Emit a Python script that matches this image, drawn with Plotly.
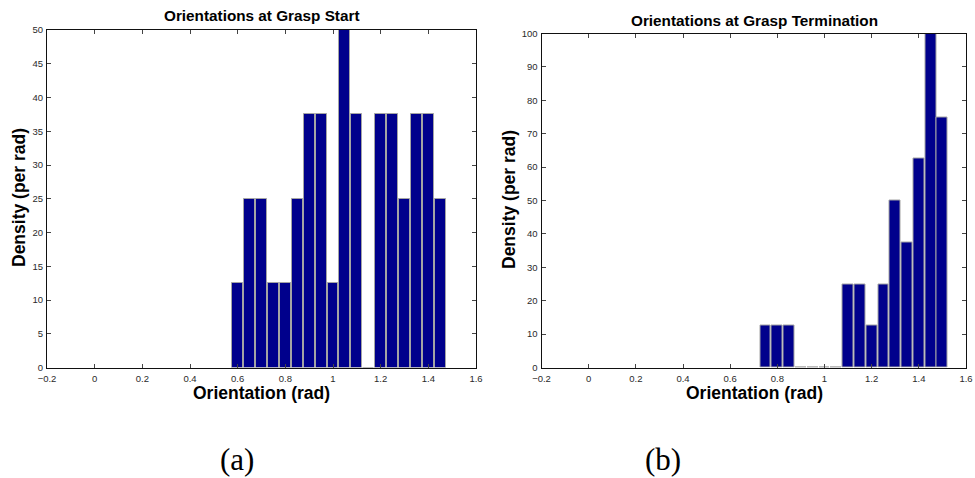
import plotly.graph_objects as go

# Histogram bins (bin centres in rad) and densities (per rad)
start_centers = [0.60, 0.65, 0.70, 0.75, 0.80, 0.85, 0.90, 0.95, 1.00, 1.05,
                 1.10, 1.15, 1.20, 1.25, 1.30, 1.35, 1.40, 1.45]
start_density = [12.5, 25, 25, 12.5, 12.5, 25, 37.5, 37.5, 12.5, 50,
                 37.5, 0, 37.5, 37.5, 25, 37.5, 37.5, 25]

term_centers = [0.75, 0.80, 0.85, 0.90, 0.95, 1.00, 1.05, 1.10, 1.15, 1.20,
                1.25, 1.30, 1.35, 1.40, 1.45, 1.50]
term_density = [12.5, 12.5, 12.5, 0, 0, 0, 0, 25, 25, 12.5,
                25, 50, 37.5, 62.5, 100, 75]

x_ticks = [-0.2, 0, 0.2, 0.4, 0.6, 0.8, 1.0, 1.2, 1.4, 1.6]
x_tick_text = ["\u22120.2", "0", "0.2", "0.4", "0.6", "0.8", "1", "1.2", "1.4", "1.6"]
start_yticks = [0, 5, 10, 15, 20, 25, 30, 35, 40, 45, 50]
term_yticks = [0, 10, 20, 30, 40, 50, 60, 70, 80, 90, 100]

W, H = 975, 478
BAR_BLUE = "#00008C"
EDGE_GREY = "#a4a4a4"
SANS = "Liberation Sans, Arial, sans-serif"
SERIF = "Liberation Serif, Times New Roman, serif"

fig = go.Figure()
fig.add_trace(go.Bar(x=start_centers, y=start_density, width=0.046,
                     marker=dict(color=BAR_BLUE, line=dict(color=EDGE_GREY, width=1)),
                     xaxis="x", yaxis="y", showlegend=False))
fig.add_trace(go.Bar(x=term_centers, y=term_density, width=0.046,
                     marker=dict(color=BAR_BLUE, line=dict(color=EDGE_GREY, width=1)),
                     xaxis="x2", yaxis="y2", showlegend=False))


def px_x(p):
    return p / W


def px_y(p):
    return 1 - p / H


axis_common = dict(showline=True, linecolor="#111", linewidth=1, mirror="ticks",
                   ticks="inside", ticklen=4, tickcolor="#444", tickwidth=1,
                   showgrid=False, zeroline=False, layer="above traces",
                   automargin=False,
                   tickfont=dict(family=SANS, size=9.5, color="#2a2a2a"))

fig.update_layout(
    width=W, height=H,
    margin=dict(l=0, r=0, t=0, b=0),
    paper_bgcolor="white", plot_bgcolor="white",
    bargap=0,
    xaxis=dict(domain=[px_x(47), px_x(476)], range=[-0.2, 1.6],
               tickvals=x_ticks, ticktext=x_tick_text, anchor="y",
               ticklabelstandoff=2, **axis_common),
    yaxis=dict(domain=[px_y(367.5), px_y(30)], range=[0, 50],
               tickvals=start_yticks, anchor="x", ticklabelstandoff=1, **axis_common),
    xaxis2=dict(domain=[px_x(541.5), px_x(966)], range=[-0.2, 1.6],
                tickvals=x_ticks, ticktext=x_tick_text, anchor="y2",
                ticklabelstandoff=2, **axis_common),
    yaxis2=dict(domain=[px_y(367.5), px_y(33.5)], range=[0, 100],
                tickvals=term_yticks, anchor="x2", ticklabelstandoff=1, **axis_common),
)

bold = dict(family=SANS, color="black")
notes = [
    ("<b>Orientations at Grasp Start</b>", 262, 16, 15.3, 0),
    ("<b>Orientations at Grasp Termination</b>", 754, 20, 15.3, 0),
    ("<b>Orientation (rad)</b>", 261, 393, 17.5, 0),
    ("<b>Orientation (rad)</b>", 754, 393, 17.5, 0),
    ("<b>Density (per rad)</b>", 19, 198, 17.5, -90),
    ("<b>Density (per rad)</b>", 509, 200, 17.5, -90),
]
for text, cx, cy, size, ang in notes:
    fig.add_annotation(text=text, xref="paper", yref="paper", x=px_x(cx), y=px_y(cy),
                       xanchor="center", yanchor="middle", showarrow=False,
                       textangle=ang, font=dict(size=size, **bold))

for text, cx in [("(a)", 237), ("(b)", 663)]:
    fig.add_annotation(text=text, xref="paper", yref="paper", x=px_x(cx), y=px_y(459),
                       xanchor="center", yanchor="middle", showarrow=False,
                       font=dict(family=SERIF, size=31, color="black"))

fig.write_html("out.html")
